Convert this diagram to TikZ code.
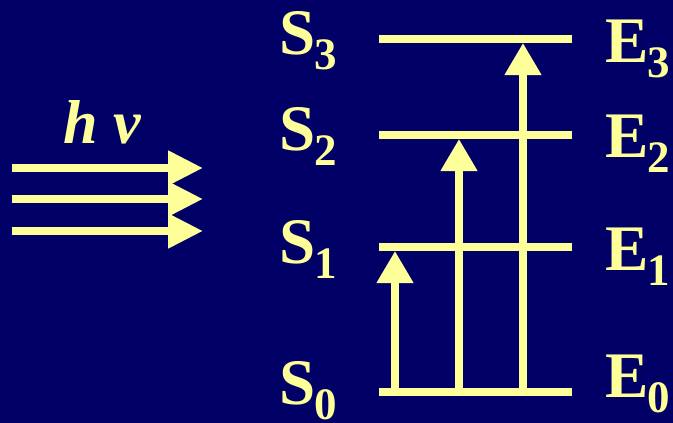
\documentclass[tikz,border=0pt]{standalone}
\usepackage{fontspec}
\setmainfont{Liberation Serif}
\usetikzlibrary{arrows.meta}
\definecolor{bgnavy}{HTML}{000066}
\definecolor{lightyel}{HTML}{FFFF99}
\tikzset{
  level/.style={draw=lightyel, line width=8pt},
  excite/.style={draw=lightyel, line width=7.5pt, -{Triangle[width=35pt,length=32pt]}, fill=lightyel},
  photon/.style={draw=lightyel, line width=8pt, -{Triangle[width=33pt,length=35pt]}, fill=lightyel},
  lab/.style={anchor=base west, inner sep=0pt, text=lightyel, font=\fontsize{65}{65}\selectfont\bfseries}
}
\newcommand{\subdig}[1]{\kern-1pt\raisebox{-15pt}{\fontsize{45}{45}\selectfont #1}}
\begin{document}
\begin{tikzpicture}[x=1pt,y=-1pt]
\fill[bgnavy] (0,0) rectangle (673,423);
\useasboundingbox (0,0) rectangle (673,423);
% levels
\coordinate (L0a) at (379,392); \coordinate (L0b) at (572,392);
\coordinate (L1a) at (379,247); \coordinate (L1b) at (572,247);
\coordinate (L2a) at (379,135); \coordinate (L2b) at (572,135);
\coordinate (L3a) at (379,39);  \coordinate (L3b) at (572,39);
\draw[level] (L0a) -- (L0b);
\draw[level] (L1a) -- (L1b);
\draw[level] (L2a) -- (L2b);
\draw[level] (L3a) -- (L3b);
% excitation arrows
\coordinate (A1s) at (395,392); \coordinate (A1e) at (395,251);
\coordinate (A2s) at (459,392); \coordinate (A2e) at (459,139);
\coordinate (A3s) at (523,392); \coordinate (A3e) at (523,43);
\draw[excite] (A1s) -- (A1e);
\draw[excite] (A2s) -- (A2e);
\draw[excite] (A3s) -- (A3e);
% photon arrows
\coordinate (P1s) at (12,168); \coordinate (P1e) at (203,168);
\coordinate (P2s) at (12,199); \coordinate (P2e) at (203,199);
\coordinate (P3s) at (12,231); \coordinate (P3e) at (203,231);
\draw[photon] (P1s) -- (P1e);
\draw[photon] (P2s) -- (P2e);
\draw[photon] (P3s) -- (P3e);
% labels
\node[lab, font=\fontsize{62}{62}\selectfont\bfseries\itshape] (hnu) at (63,143) {h ν};
\node[lab] (S3) at (279,54) {S\subdig{3}};
\node[lab] (S2) at (279,150) {S\subdig{2}};
\node[lab] (S1) at (279,263) {S\subdig{1}};
\node[lab] (S0) at (279,404) {S\subdig{0}};
\node[lab] (E3) at (605,62) {E\subdig{3}};
\node[lab] (E2) at (605,157) {E\subdig{2}};
\node[lab] (E1) at (605,270) {E\subdig{1}};
\node[lab] (E0) at (605,397) {E\subdig{0}};
\end{tikzpicture}
\end{document}
